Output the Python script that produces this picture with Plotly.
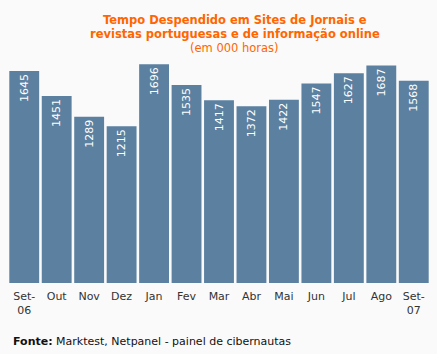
import plotly.graph_objects as go

months = ["Set-<br>06", "Out", "Nov", "Dez", "Jan", "Fev", "Mar", "Abr", "Mai", "Jun", "Jul", "Ago", "Set-<br>07"]
hours = [1645, 1451, 1289, 1215, 1696, 1535, 1417, 1372, 1422, 1547, 1627, 1687, 1568]
title_lines = ["<b>Tempo Despendido em Sites de Jornais e</b>",
               "<b>revistas portuguesas e de informação online</b>",
               "(em 000 horas)"]
footer = "<b>Fonte:</b> Marktest, Netpanel - painel de cibernautas"

W, H = 437, 354
BG = "#fafafa"
BAR = "#5b80a0"
FONT = "DejaVu Sans"

fig = go.Figure(go.Bar(
    x=months, y=hours,
    marker=dict(color=BAR, line=dict(width=0)),
    text=[str(v) for v in hours],
    textposition="inside",
    insidetextanchor="end",
    textangle=-90,
    textfont=dict(family=FONT, size=11, color="white"),
    cliponaxis=False,
))

annotations = []
for i, (line, yc) in enumerate(zip(title_lines, [20, 34, 48])):
    annotations.append(dict(
        text=line, xref="paper", yref="paper",
        x=(235 - 8) / (W - 15), y=1 + (40 - yc) / (H - 40 - 71),
        xanchor="center", yanchor="middle", showarrow=False,
        font=dict(family=FONT, size=11.5, color="#ff6600"),
    ))
annotations.append(dict(
    text=footer, xref="paper", yref="paper",
    x=(11 - 8) / (W - 15), y=-(341 - 283) / (H - 40 - 71),
    xanchor="left", yanchor="middle", showarrow=False,
    font=dict(family=FONT, size=11, color="#111111"),
))

fig.update_layout(
    width=W, height=H,
    margin=dict(l=8, r=7, t=40, b=71),
    paper_bgcolor=BG, plot_bgcolor=BG,
    bargap=0.08,
    showlegend=False,
    font=dict(family=FONT, size=11, color="#333333"),
    xaxis=dict(showgrid=False, showline=False, zeroline=False, ticks="",
               ticklabelstandoff=5,
               tickfont=dict(family=FONT, size=11, color="#333333")),
    yaxis=dict(visible=False, range=[0, 1885]),
    uniformtext=dict(minsize=11, mode="show"),
    annotations=annotations,
)

fig.write_html("out.html")
